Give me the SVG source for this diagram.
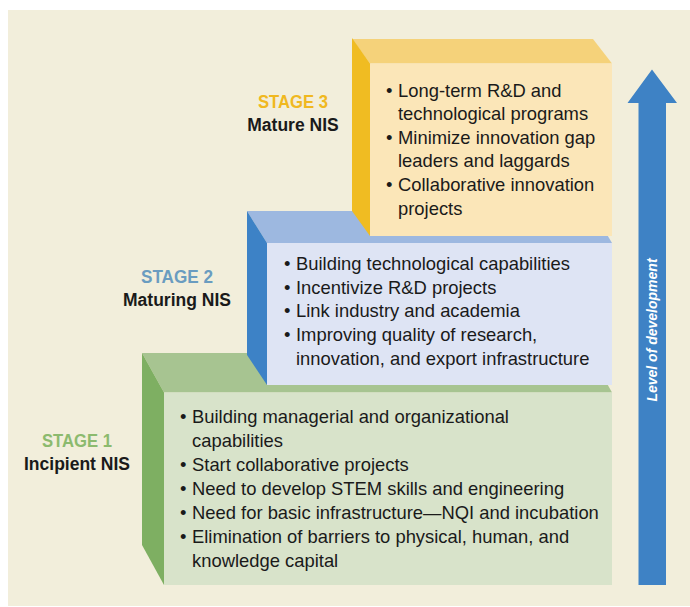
<svg xmlns="http://www.w3.org/2000/svg" width="690" height="607" viewBox="0 0 690 607">
<style>
.body{font-family:"Liberation Sans",Arial,sans-serif;font-size:18.4px;fill:#1a1a1a}
.stage{font-family:"Liberation Sans",Arial,sans-serif;font-size:18px;font-weight:bold;text-anchor:middle}
.nis{font-family:"Liberation Sans",Arial,sans-serif;font-size:17.5px;font-weight:bold;fill:#1a1a1a;text-anchor:middle}
.axis{font-family:"Liberation Sans",Arial,sans-serif;font-size:14px;font-weight:bold;font-style:italic;fill:#ffffff;text-anchor:middle}
</style>
<rect x="8" y="10" width="682" height="596" fill="#F2EEDB"/>

<g id="stage1">
  <polygon points="142,353 590,353 612,392.5 164,392.5" fill="#A7C491"/>
  <polygon points="142,353 164,392.5 164,585 142,545" fill="#7EAF62"/>
  <rect x="164" y="392.5" width="448" height="192.5" fill="#D8E3CA"/>
  <text class="stage" x="77" y="447" fill="#8CBA6E" textLength="70" lengthAdjust="spacingAndGlyphs">STAGE 1</text>
  <text class="nis" x="77" y="470">Incipient NIS</text>
  <g class="body">
    <text x="180" y="423">•</text><text x="192" y="423">Building managerial and organizational</text>
    <text x="192" y="447">capabilities</text>
    <text x="180" y="471">•</text><text x="192" y="471">Start collaborative projects</text>
    <text x="180" y="495">•</text><text x="192" y="495">Need to develop STEM skills and engineering</text>
    <text x="180" y="519">•</text><text x="192" y="519">Need for basic infrastructure—NQI and incubation</text>
    <text x="180" y="543">•</text><text x="192" y="543">Elimination of barriers to physical, human, and</text>
    <text x="192" y="567">knowledge capital</text>
  </g>
</g>

<g id="stage2">
  <polygon points="247,211 593,211 612,243 267,243" fill="#9DB8E0"/>
  <polygon points="247,211 267,243 267,385 247,355" fill="#3D82C6"/>
  <rect x="267" y="243" width="345" height="142" fill="#DEE4F4"/>
  <text class="stage" x="177" y="283" fill="#6A9CC0" textLength="72" lengthAdjust="spacingAndGlyphs">STAGE 2</text>
  <text class="nis" x="177" y="306">Maturing NIS</text>
  <g class="body">
    <text x="284" y="270">•</text><text x="296" y="270">Building technological capabilities</text>
    <text x="284" y="294">•</text><text x="296" y="294">Incentivize R&amp;D projects</text>
    <text x="284" y="317">•</text><text x="296" y="317">Link industry and academia</text>
    <text x="284" y="341">•</text><text x="296" y="341">Improving quality of research,</text>
    <text x="296" y="365">innovation, and export infrastructure</text>
  </g>
</g>

<g id="stage3">
  <polygon points="352,39 593,39 612,63.5 370,63.5" fill="#F5D27A"/>
  <polygon points="352,38 370,63.5 370,236 352,211" fill="#F0BC22"/>
  <rect x="370" y="63.5" width="242" height="172.5" fill="#FBE6B8"/>
  <text class="stage" x="293" y="108" fill="#F0B820" textLength="70" lengthAdjust="spacingAndGlyphs">STAGE 3</text>
  <text class="nis" x="293" y="131">Mature NIS</text>
  <g class="body">
    <text x="386" y="97">•</text><text x="398" y="97">Long-term R&amp;D and</text>
    <text x="398" y="120">technological programs</text>
    <text x="386" y="144">•</text><text x="398" y="144">Minimize innovation gap</text>
    <text x="398" y="167">leaders and laggards</text>
    <text x="386" y="191">•</text><text x="398" y="191">Collaborative innovation</text>
    <text x="398" y="215">projects</text>
  </g>
</g>

<g id="connectors">
  <g id="arrow">
    <polygon points="652,69.5 677,103 666,103 666,585 638.5,585 638.5,103 627.5,103" fill="#3E82C5"/>
    <text class="axis" transform="translate(657,330) rotate(-90)">Level of development</text>
  </g>
</g>
</svg>
